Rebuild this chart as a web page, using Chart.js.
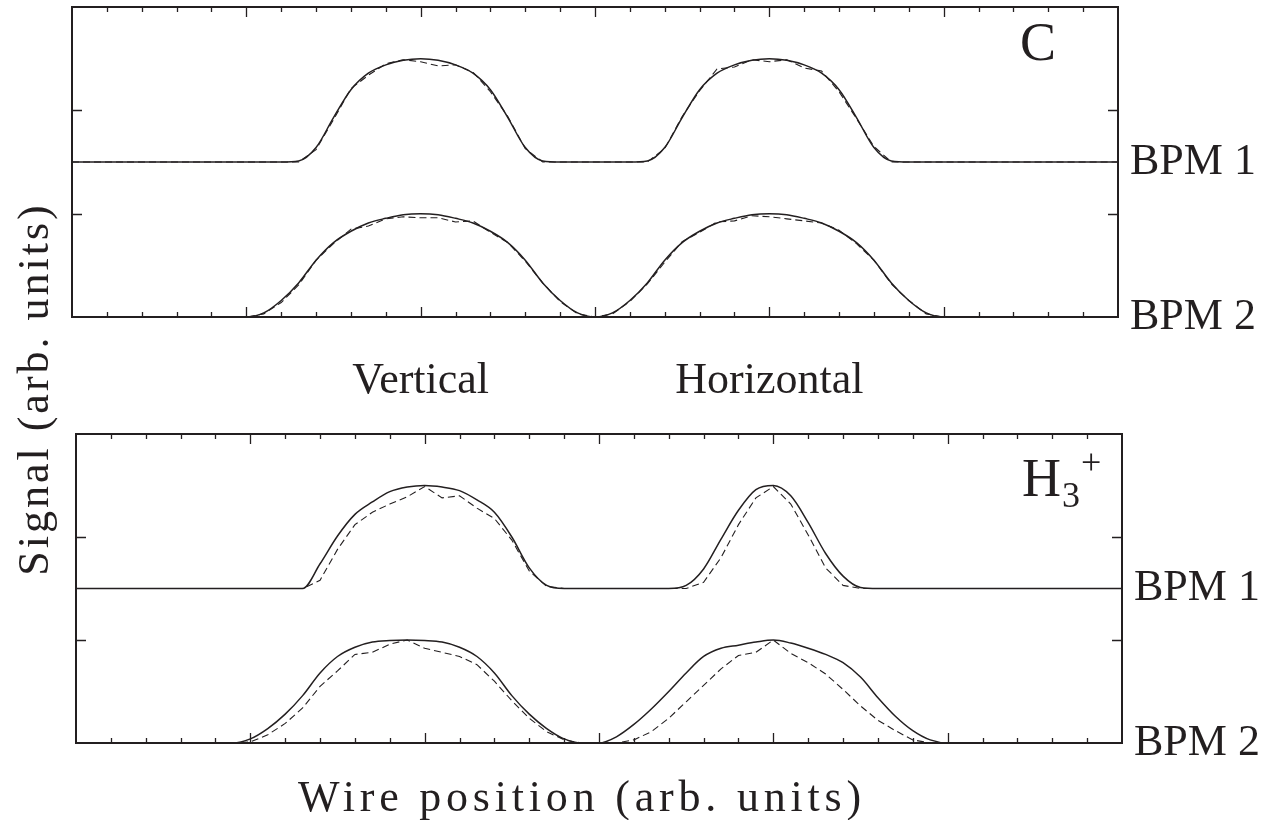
<!DOCTYPE html>
<html>
<head>
<meta charset="utf-8">
<title>Wire scanner profiles</title>
<script src="https://cdn.jsdelivr.net/npm/chart.js@4.4.1/dist/chart.umd.min.js"></script>
<style>
  html, body { margin: 0; padding: 0; background: #ffffff; }
  #wrap { position: relative; width: 1273px; height: 820px; }
  #wrap canvas { position: absolute; left: 0; top: 0; }
</style>
</head>
<body>
<div id="wrap">
  <canvas id="panelC" width="1273" height="820"></canvas>
  <canvas id="panelH" width="1273" height="820"></canvas>
</div>
<script>
// Wire position grid (arb. units): vertical scan around 2, horizontal scan around 4
const wirePos = [
  0.0, 0.1, 0.2, 0.3, 0.4, 0.5, 0.6, 0.7, 0.8, 0.9,
  1.0, 1.1, 1.2, 1.3, 1.4, 1.5, 1.6, 1.7, 1.8, 1.9,
  2.0, 2.1, 2.2, 2.3, 2.4, 2.5, 2.6, 2.7, 2.8, 2.9,
  3.0, 3.1, 3.2, 3.3, 3.4, 3.5, 3.6, 3.7, 3.8, 3.9,
  4.0, 4.1, 4.2, 4.3, 4.4, 4.5, 4.6, 4.7, 4.8, 4.9,
  5.0, 5.1, 5.2, 5.3, 5.4, 5.5, 5.6, 5.7, 5.8, 5.9,
  6.0
];

// C beam: simulated (solid) and measured (dashed) signals, normalised to 1
const cBpm1Sim = [
  0, 0, 0, 0, 0, 0, 0, 0, 0, 0,
  0, 0, 0, 0.01, 0.14, 0.43, 0.70, 0.86, 0.94, 0.985,
  1.00, 0.985, 0.94, 0.86, 0.70, 0.43, 0.14, 0.01, 0, 0,
  0, 0, 0, 0.01, 0.14, 0.43, 0.70, 0.86, 0.94, 0.985,
  1.00, 0.985, 0.94, 0.86, 0.70, 0.43, 0.14, 0.01, 0, 0,
  0, 0, 0, 0, 0, 0, 0, 0, 0, 0,
  0
];
const cBpm1Meas = [
  0, 0, 0, 0, 0, 0, 0, 0, 0, 0,
  0, 0, 0, 0, 0.12, 0.41, 0.71, 0.84, 0.95, 0.99,
  0.97, 0.93, 0.94, 0.87, 0.68, 0.44, 0.13, 0, 0, 0,
  0, 0, 0, 0, 0.13, 0.44, 0.69, 0.90, 0.92, 0.99,
  0.97, 0.99, 0.91, 0.88, 0.68, 0.42, 0.15, 0, 0, 0,
  0, 0, 0, 0, 0, 0, 0, 0, 0, 0,
  0
];
const cBpm2Sim = [
  0, 0, 0, 0, 0, 0, 0, 0, 0, 0,
  0, 0.04, 0.16, 0.33, 0.55, 0.72, 0.83, 0.91, 0.955, 0.99,
  1.00, 0.99, 0.955, 0.91, 0.83, 0.72, 0.55, 0.33, 0.16, 0.04,
  0, 0.04, 0.16, 0.33, 0.55, 0.72, 0.83, 0.91, 0.955, 0.99,
  1.00, 0.99, 0.955, 0.91, 0.83, 0.72, 0.55, 0.33, 0.16, 0.04,
  0, 0, 0, 0, 0, 0, 0, 0, 0, 0,
  0
];
const cBpm2Meas = [
  0, 0, 0, 0, 0, 0, 0, 0, 0, 0,
  0, 0.03, 0.14, 0.31, 0.55, 0.71, 0.85, 0.88, 0.95, 0.97,
  0.96, 0.96, 0.92, 0.93, 0.82, 0.72, 0.54, 0.33, 0.15, 0.03,
  0, 0.03, 0.15, 0.32, 0.53, 0.73, 0.82, 0.92, 0.93, 0.98,
  0.97, 0.95, 0.93, 0.91, 0.84, 0.71, 0.55, 0.32, 0.16, 0.03,
  0, 0, 0, 0, 0, 0, 0, 0, 0, 0,
  0
];

// H3+ beam: simulated (solid) and measured (dashed) signals
const h3Bpm1Sim = [
  0, 0, 0, 0, 0, 0, 0, 0, 0, 0,
  0, 0, 0, 0, 0.24, 0.51, 0.72, 0.84, 0.94, 0.985,
  1.00, 0.985, 0.95, 0.86, 0.74, 0.50, 0.20, 0.03, 0, 0,
  0, 0, 0, 0, 0, 0.03, 0.19, 0.48, 0.76, 0.96,
  1.00, 0.90, 0.64, 0.34, 0.12, 0.01, 0, 0, 0, 0,
  0, 0, 0, 0, 0, 0, 0, 0, 0, 0,
  0
];
const h3Bpm1Meas = [
  0, 0, 0, 0, 0, 0, 0, 0, 0, 0,
  0, 0, 0, 0, 0.08, 0.38, 0.62, 0.74, 0.82, 0.89,
  0.99, 0.88, 0.90, 0.78, 0.68, 0.47, 0.17, 0.02, 0, 0,
  0, 0, 0, 0, 0, 0, 0.06, 0.30, 0.62, 0.88,
  0.99, 0.82, 0.52, 0.20, 0.03, 0, 0, 0, 0, 0,
  0, 0, 0, 0, 0, 0, 0, 0, 0, 0,
  0
];
const h3Bpm2Sim = [
  0, 0, 0, 0, 0, 0, 0, 0, 0, 0,
  0.04, 0.14, 0.28, 0.46, 0.68, 0.84, 0.93, 0.98, 0.995, 1.00,
  0.995, 0.98, 0.93, 0.84, 0.68, 0.46, 0.28, 0.14, 0.04, 0,
  0, 0.06, 0.18, 0.33, 0.50, 0.68, 0.84, 0.92, 0.95, 0.98,
  1.00, 0.97, 0.92, 0.86, 0.78, 0.64, 0.44, 0.26, 0.12, 0.03,
  0, 0, 0, 0, 0, 0, 0, 0, 0, 0,
  0
];
const h3Bpm2Meas = [
  0, 0, 0, 0, 0, 0, 0, 0, 0, 0,
  0.01, 0.08, 0.19, 0.34, 0.55, 0.70, 0.86, 0.88, 0.96, 1.00,
  0.92, 0.88, 0.84, 0.76, 0.60, 0.41, 0.24, 0.11, 0.03, 0,
  0, 0, 0.03, 0.11, 0.24, 0.40, 0.56, 0.72, 0.85, 0.88,
  1.00, 0.87, 0.78, 0.67, 0.52, 0.36, 0.22, 0.12, 0.03, 0,
  0, 0, 0, 0, 0, 0, 0, 0, 0, 0,
  0
];

const rowLabels = ['BPM 1', 'BPM 2'];
const scanLabels = ['Vertical', 'Horizontal'];
const yTitle = 'Signal (arb. units)';
const xTitle = 'Wire position (arb. units)';

// Each BPM trace sits on its own baseline inside a 0..3 signal axis
const rowBase = [1.5, 0];

const INK = '#231f20';
const SERIF = '"Liberation Serif", "Times New Roman", serif';

function toPoints(values, base) {
  return values.map((v, i) => ({ x: wirePos[i], y: v + base }));
}

function traceSets(rows) {
  const sets = [];
  rows.forEach((row, r) => {
    sets.push({
      data: toPoints(row.meas, rowBase[r]),
      borderColor: INK, borderWidth: 1.1, borderDash: [7, 4],
      pointRadius: 0, tension: 0, clip: 6
    });
    sets.push({
      data: toPoints(row.sim, rowBase[r]),
      borderColor: INK, borderWidth: 1.5,
      pointRadius: 0, cubicInterpolationMode: 'monotone', clip: 6
    });
  });
  return sets;
}

// Box frame, inward ticks and all annotation text
const panelDecor = {
  id: 'panelDecor',
  afterDraw(chart, args, opts) {
    const ctx = chart.ctx;
    const a = chart.chartArea;
    const xs = chart.scales.x, ys = chart.scales.y;
    ctx.save();
    ctx.strokeStyle = INK;
    ctx.fillStyle = INK;

    // ticks along top and bottom edges
    ctx.lineWidth = 1.3;
    ctx.beginPath();
    xs.ticks.forEach(t => {
      const px = Math.round(xs.getPixelForValue(t.value)) + 0.5;
      if (px <= a.left + 2 || px >= a.right - 2) return;
      const major = Math.abs(t.value - Math.round(t.value)) < 1e-6;
      const len = major ? 10 : 5;
      ctx.moveTo(px, a.top); ctx.lineTo(px, a.top + len);
      ctx.moveTo(px, a.bottom); ctx.lineTo(px, a.bottom - len);
    });
    // ticks along left and right edges
    ys.ticks.forEach(t => {
      const py = Math.round(ys.getPixelForValue(t.value)) + 0.5;
      if (py <= a.top + 2 || py >= a.bottom - 2) return;
      ctx.moveTo(a.left, py); ctx.lineTo(a.left + 10, py);
      ctx.moveTo(a.right, py); ctx.lineTo(a.right - 10, py);
    });
    ctx.stroke();

    // frame
    ctx.lineWidth = 2;
    ctx.strokeRect(a.left, a.top, a.right - a.left, a.bottom - a.top);

    // BPM labels at each trace baseline
    ctx.font = '44px ' + SERIF;
    ctx.textAlign = 'left';
    ctx.textBaseline = 'middle';
    rowLabels.forEach((lab, r) => {
      ctx.fillText(lab, a.right + 12, ys.getPixelForValue(rowBase[r]));
    });

    // beam species
    ctx.textBaseline = 'alphabetic';
    if (opts.species === 'C') {
      ctx.font = '54px ' + SERIF;
      ctx.fillText('C', a.right - 98, a.top + 53);
    } else {
      const x0 = a.right - 100, yb = a.top + 62;
      ctx.font = '54px ' + SERIF;
      ctx.fillText('H', x0, yb);
      const w = ctx.measureText('H').width;
      ctx.font = '36px ' + SERIF;
      ctx.fillText('3', x0 + w + 1, yb + 11);
      ctx.fillText('+', x0 + w + 20, yb - 22);
    }

    // scan direction labels below the upper panel
    if (opts.scanLabels) {
      ctx.font = '44px ' + SERIF;
      ctx.textAlign = 'center';
      ctx.fillText(scanLabels[0], xs.getPixelForValue(2), a.bottom + 76);
      ctx.fillText(scanLabels[1], xs.getPixelForValue(4), a.bottom + 76);
    }

    // vertical axis title shared by both panels
    if (opts.yTitle) {
      ctx.save();
      ctx.font = '44px ' + SERIF;
      ctx.letterSpacing = '3px';
      ctx.textAlign = 'center';
      ctx.textBaseline = 'middle';
      ctx.translate(36, 389);
      ctx.rotate(-Math.PI / 2);
      ctx.fillText(yTitle, 0, 0);
      ctx.restore();
    }

    // horizontal axis title
    if (opts.xTitle) {
      ctx.save();
      ctx.font = '44px ' + SERIF;
      ctx.letterSpacing = '4.8px';
      ctx.textAlign = 'center';
      ctx.textBaseline = 'alphabetic';
      ctx.fillText(xTitle, 582, a.bottom + 68);
      ctx.restore();
    }
    ctx.restore();
  }
};

function makePanel(id, rows, pad, decor) {
  return new Chart(document.getElementById(id), {
    type: 'line',
    data: { datasets: traceSets(rows) },
    options: {
      responsive: false,
      devicePixelRatio: 1,
      animation: false,
      events: [],
      layout: { padding: pad },
      plugins: { legend: { display: false }, tooltip: { enabled: false }, panelDecor: decor },
      scales: {
        x: { type: 'linear', min: 0, max: 6, display: false, ticks: { stepSize: 0.2 } },
        y: { type: 'linear', min: 0, max: 3, display: false, ticks: { stepSize: 1 } }
      }
    },
    plugins: [panelDecor]
  });
}

makePanel('panelC',
  [{ sim: cBpm1Sim, meas: cBpm1Meas }, { sim: cBpm2Sim, meas: cBpm2Meas }],
  { left: 72, right: 155, top: 7, bottom: 503 },
  { species: 'C', scanLabels: true, yTitle: true });

makePanel('panelH',
  [{ sim: h3Bpm1Sim, meas: h3Bpm1Meas }, { sim: h3Bpm2Sim, meas: h3Bpm2Meas }],
  { left: 76, right: 151, top: 434, bottom: 77 },
  { species: 'H3+', xTitle: true });
</script>
</body>
</html>
